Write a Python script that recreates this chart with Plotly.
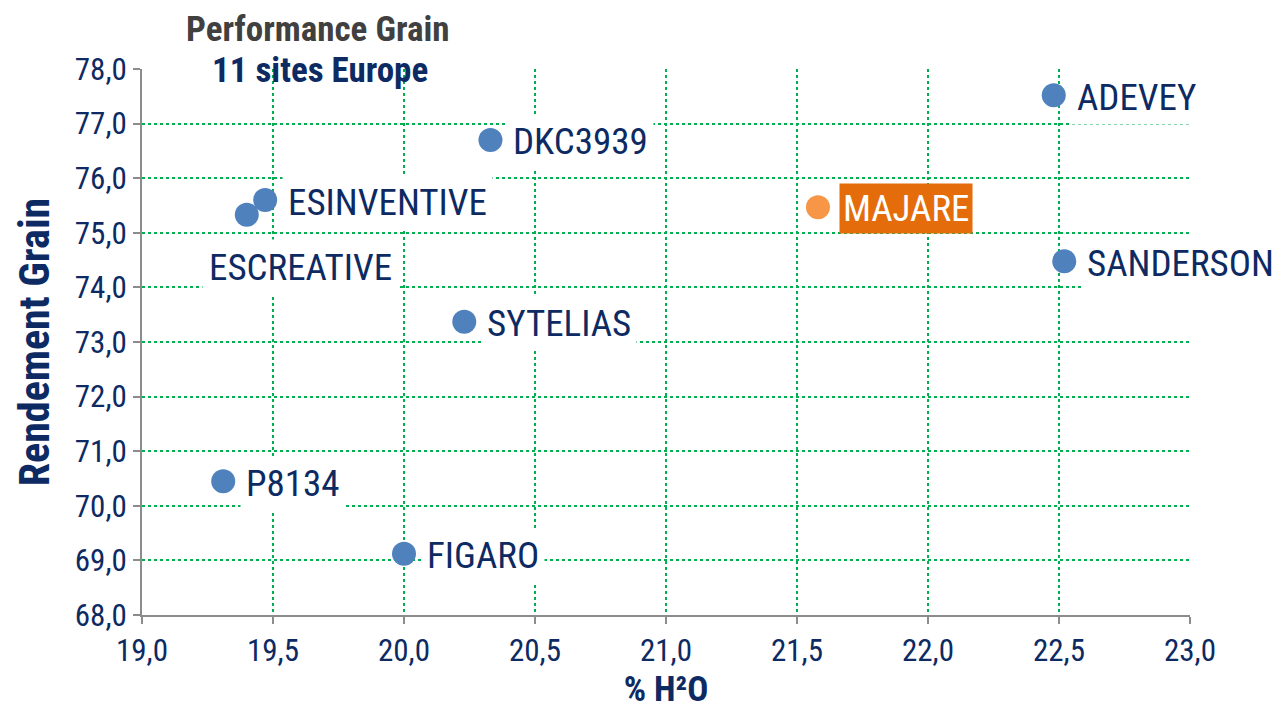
import plotly.graph_objects as go

names = ["ADEVEY", "DKC3939", "ESINVENTIVE", "ESCREATIVE", "MAJARE", "SANDERSON", "SYTELIAS", "P8134", "FIGARO"]
h2o = [22.48, 20.33, 19.47, 19.40, 21.58, 22.52, 20.23, 19.31, 20.00]
rendement = [77.52, 76.70, 75.60, 75.33, 75.47, 74.48, 73.37, 70.45, 69.12]
highlight = "MAJARE"

x_ticks = [19.0 + 0.5 * i for i in range(9)]
y_ticks = [68.0 + i for i in range(11)]

NAVY = "#0d2a63"
FONT = "Liberation Sans Narrow, Arial Narrow, Roboto Condensed, Liberation Sans, Arial, sans-serif"

fig = go.Figure()
for n, xv, yv in zip(names, h2o, rendement):
    fig.add_trace(go.Scatter(
        x=[xv], y=[yv], mode="markers", name=n,
        marker=dict(size=24, color="#f79646" if n == highlight else "#4f81bd",
                    line=dict(width=0)),
        showlegend=False, cliponaxis=False,
    ))

for n, xv, yv in zip(names, h2o, rendement):
    if n == "ESCREATIVE":
        fig.add_annotation(x=xv, y=yv, text=n, showarrow=False, xanchor="center", yanchor="middle",
                           xshift=54, yshift=-53, bgcolor="white", borderpad=6,
                           font=dict(family=FONT, size=37, color=NAVY))
    elif n == highlight:
        fig.add_annotation(x=xv, y=yv, text=n, showarrow=False, xanchor="left", yanchor="middle",
                           xshift=21, yshift=-1, bgcolor="#e46c0a", borderpad=3,
                           font=dict(family=FONT, size=37, color="white"))
    else:
        fig.add_annotation(x=xv, y=yv, text=n, showarrow=False, xanchor="left", yanchor="middle",
                           xshift=17, yshift=-2, bgcolor="white", borderpad=5,
                           font=dict(family=FONT, size=37, color=NAVY))

fig.add_annotation(xref="paper", yref="paper", x=0.168, y=1.0, yshift=40, xanchor="center", yanchor="middle",
                   text="<b>Performance Grain</b>", showarrow=False,
                   font=dict(family=FONT, size=35, color="#404040"))
fig.add_annotation(xref="paper", yref="paper", x=0.17, y=1.0, yshift=-1, xanchor="center", yanchor="middle",
                   text="<b>11 sites Europe</b>", showarrow=False,
                   font=dict(family=FONT, size=35, color=NAVY))

fig.update_layout(
    width=1280, height=709,
    margin=dict(l=134, r=98, t=61, b=102),
    plot_bgcolor="white", paper_bgcolor="white",
    font=dict(family=FONT, size=22, color=NAVY),
    xaxis=dict(range=[19.0, 23.0], tickvals=x_ticks, ticktext=[f"{v:.1f}".replace(".", ",") for v in x_ticks],
               showgrid=True, gridcolor="#00b050", griddash="dot", gridwidth=2,
               showline=True, linecolor="#8c8c8c", linewidth=2,
               ticks="outside", tickcolor="#8c8c8c", ticklen=7, tickwidth=2,
               tickfont=dict(family=FONT, size=31, color=NAVY), zeroline=False, automargin=False,
               title=dict(text="<b>% H²O</b>", font=dict(family=FONT, size=35, color=NAVY), standoff=4)),
    yaxis=dict(range=[68.0, 78.0], tickvals=y_ticks, ticktext=[f"{v:.1f}".replace(".", ",") for v in y_ticks],
               showgrid=True, gridcolor="#00b050", griddash="dot", gridwidth=2,
               showline=True, linecolor="#8c8c8c", linewidth=2,
               ticks="outside", tickcolor="#8c8c8c", ticklen=7, tickwidth=2,
               tickfont=dict(family=FONT, size=31, color=NAVY), zeroline=False, automargin=False,
               title=dict(text="<b>Rendement Grain</b>", font=dict(family=FONT, size=42, color=NAVY), standoff=12)),
)

fig.write_html("out.html")
